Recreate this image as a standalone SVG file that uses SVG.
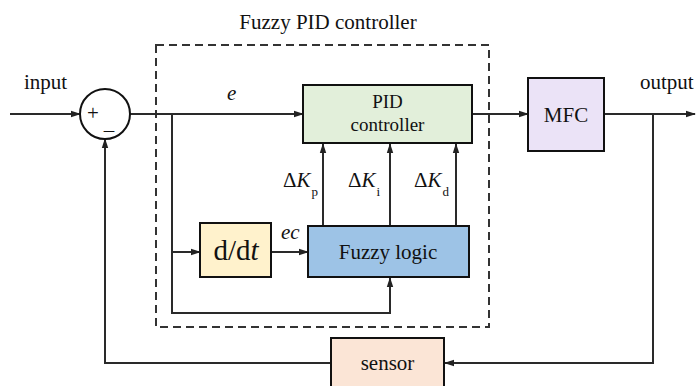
<svg xmlns="http://www.w3.org/2000/svg" width="696" height="386" viewBox="0 0 696 386">
<defs>
<marker id="arr" markerWidth="10" markerHeight="8" refX="9" refY="4" orient="auto" markerUnits="userSpaceOnUse">
<path d="M0,0.8 L10,4 L0,7.2 Z" fill="#222"/>
</marker>
<style>
text{font-family:"Liberation Serif","Times New Roman",serif;font-size:21px;fill:#111}
.it{font-style:italic}
.sub{font-size:13px}
.box{stroke:#111;stroke-width:2}
.ln{fill:none;stroke:#2a2a2a;stroke-width:2}
.dash{fill:none;stroke:#333;stroke-width:2;stroke-dasharray:8,5}
.big{font-size:29px}
</style>
</defs>
<rect width="696" height="386" fill="#fff"/>
<g id="fuzzy-pid-group">
<rect class="dash" x="156" y="45" width="333" height="282"/>
<text x="328" y="29" text-anchor="middle">Fuzzy PID controller</text>
</g>
<g id="connectors">
<line class="ln" x1="10" y1="114" x2="80" y2="114" marker-end="url(#arr)"/>
<line class="ln" x1="130" y1="114" x2="303" y2="114" marker-end="url(#arr)"/>
<polyline class="ln" points="172,114 172,313 390,313 390,278" marker-end="url(#arr)"/>
<line class="ln" x1="172" y1="252" x2="200" y2="252" marker-end="url(#arr)"/>
<line class="ln" x1="271" y1="252" x2="308" y2="252" marker-end="url(#arr)"/>
<line class="ln" x1="323" y1="226" x2="323" y2="144" marker-end="url(#arr)"/>
<line class="ln" x1="390" y1="226" x2="390" y2="144" marker-end="url(#arr)"/>
<line class="ln" x1="456" y1="226" x2="456" y2="144" marker-end="url(#arr)"/>
<line class="ln" x1="472" y1="114" x2="528" y2="114" marker-end="url(#arr)"/>
<line class="ln" x1="604" y1="114" x2="695" y2="114" marker-end="url(#arr)"/>
<polyline class="ln" points="653,114 653,363 445,363" marker-end="url(#arr)"/>
<polyline class="ln" points="331,363 105,363 105,139" marker-end="url(#arr)"/>
<text class="it" x="227" y="100">e</text>
<text class="it" x="281" y="239">ec</text>
<text x="283" y="187">Δ<tspan class="it">K</tspan><tspan class="sub" dx="1" dy="9">p</tspan></text>
<text x="348" y="187">Δ<tspan class="it">K</tspan><tspan class="sub" dx="1" dy="9">i</tspan></text>
<text x="414" y="187">Δ<tspan class="it">K</tspan><tspan class="sub" dx="1" dy="9">d</tspan></text>
<text x="24" y="89">input</text>
<text x="640" y="89">output</text>
</g>
<g id="sum">
<circle cx="105" cy="114" r="25" fill="#fff" stroke="#111" stroke-width="2"/>
<text x="93" y="120" text-anchor="middle" font-size="20">+</text>
<text x="109" y="137" text-anchor="middle" font-size="20">–</text>
</g>
<g id="pid">
<rect class="box" x="303" y="85" width="169" height="58" fill="#e2efda"/>
<text x="387.5" y="108" text-anchor="middle" style="font-size:19px">PID</text>
<text x="387.5" y="131" text-anchor="middle" style="font-size:19px">controller</text>
</g>
<g id="ddt">
<rect class="box" x="200" y="223" width="71" height="54" fill="#fff2cc"/>
<text class="big" x="236" y="260" text-anchor="middle">d/d<tspan class="it">t</tspan></text>
</g>
<g id="fuzzy">
<rect class="box" x="308" y="226" width="161" height="51" fill="#9dc3e6"/>
<text x="388" y="259" text-anchor="middle">Fuzzy logic</text>
</g>
<g id="mfc">
<rect class="box" x="528" y="78" width="76" height="73" fill="#ebe3f7"/>
<text x="566" y="122" text-anchor="middle">MFC</text>
</g>
<g id="sensor">
<rect class="box" x="331" y="338" width="113" height="52" fill="#fbe5d6"/>
<text x="387.5" y="370" text-anchor="middle">sensor</text>
</g>
</svg>
